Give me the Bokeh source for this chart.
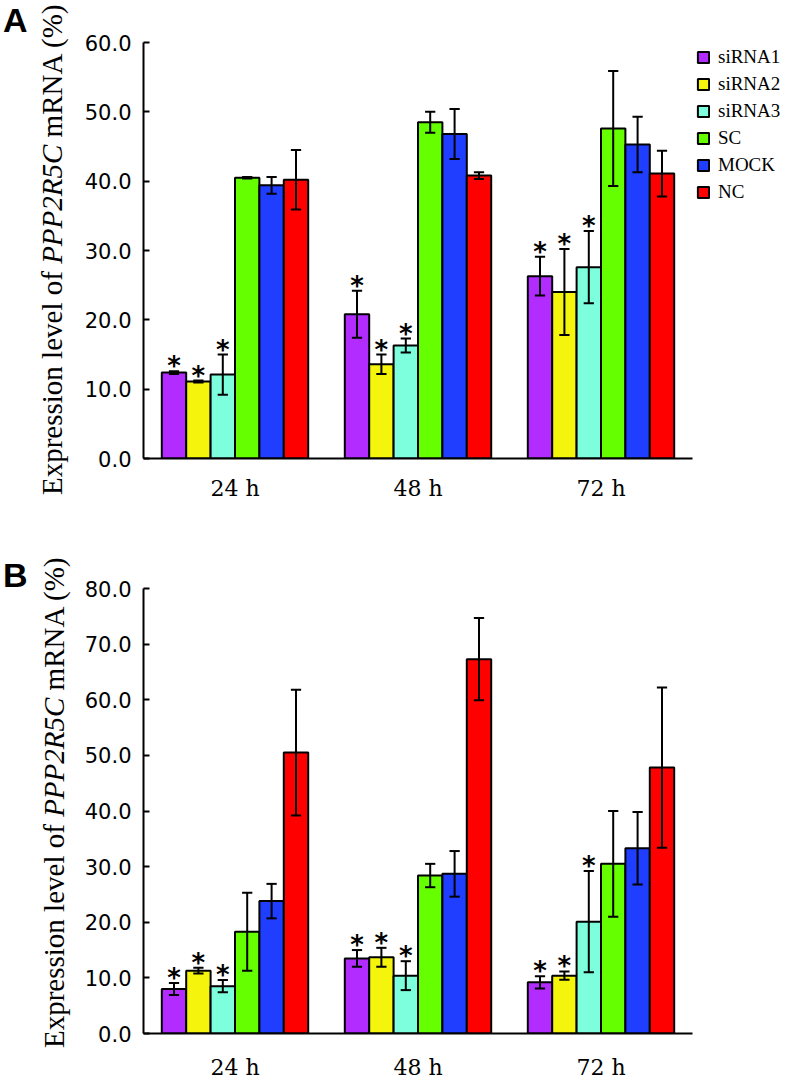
from bokeh.plotting import figure
from bokeh.models import (FactorRange, Range1d, FixedTicker, NumeralTickFormatter,
                          ColumnDataSource, Legend, LegendItem, Div)
from bokeh.transform import dodge
from bokeh.layouts import column, row
from bokeh.embed import file_html
from bokeh.resources import INLINE
from bokeh.core.properties import value

# ---------------- data ----------------
groups = ["24 h", "48 h", "72 h"]
series = ["siRNA1", "siRNA2", "siRNA3", "SC", "MOCK", "NC"]
colors = ["#B22CFF", "#F4F40C", "#7DFFDE", "#66FF00", "#1F3EFF", "#FF0000"]

# Panel A (means and SD per series across groups)
a_siRNA1 = [12.4, 20.8, 26.3]
a_siRNA2 = [11.1, 13.6, 24.0]
a_siRNA3 = [12.1, 16.3, 27.6]
a_SC     = [40.5, 48.5, 47.6]
a_MOCK   = [39.4, 46.8, 45.3]
a_NC     = [40.2, 40.8, 41.1]
a_err_siRNA1 = [0.2, 3.4, 2.8]
a_err_siRNA2 = [0.15, 1.4, 6.2]
a_err_siRNA3 = [2.9, 1.0, 5.2]
a_err_SC     = [0.1, 1.5, 8.3]
a_err_MOCK   = [1.2, 3.6, 4.0]
a_err_NC     = [4.3, 0.5, 3.3]
a_sig = {"siRNA1": [1, 1, 1], "siRNA2": [1, 1, 1], "siRNA3": [1, 1, 1],
         "SC": [0, 0, 0], "MOCK": [0, 0, 0], "NC": [0, 0, 0]}

# Panel B
b_siRNA1 = [8.0, 13.5, 9.2]
b_siRNA2 = [11.3, 13.7, 10.4]
b_siRNA3 = [8.5, 10.4, 20.1]
b_SC     = [18.3, 28.4, 30.5]
b_MOCK   = [23.8, 28.7, 33.3]
b_NC     = [50.5, 67.3, 47.8]
b_err_siRNA1 = [1.1, 1.5, 1.1]
b_err_siRNA2 = [0.5, 1.7, 0.75]
b_err_siRNA3 = [1.1, 2.6, 9.1]
b_err_SC     = [7.0, 2.1, 9.5]
b_err_MOCK   = [3.1, 4.1, 6.5]
b_err_NC     = [11.3, 7.4, 14.4]
b_sig = {"siRNA1": [1, 1, 1], "siRNA2": [1, 1, 1], "siRNA3": [1, 1, 1],
         "SC": [0, 0, 0], "MOCK": [0, 0, 0], "NC": [0, 0, 0]}

a_yticks = [0, 10, 20, 30, 40, 50, 60]
b_yticks = [0, 10, 20, 30, 40, 50, 60, 70, 80]

y_title_html = "Expression level of <i>PPP2R5C</i> mRNA (%)"

a_means = [a_siRNA1, a_siRNA2, a_siRNA3, a_SC, a_MOCK, a_NC]
a_errs = [a_err_siRNA1, a_err_siRNA2, a_err_siRNA3, a_err_SC, a_err_MOCK, a_err_NC]
b_means = [b_siRNA1, b_siRNA2, b_siRNA3, b_SC, b_MOCK, b_NC]
b_errs = [b_err_siRNA1, b_err_siRNA2, b_err_siRNA3, b_err_SC, b_err_MOCK, b_err_NC]

BAR_W = 0.8 / 6
CAP = 0.028
STRIP_W = 80


def make_strip(height, letter, letter_top, title_left, title_top):
    """HTML strip left of a panel: panel letter and rotated y-axis title."""
    html = (
        f'<div style="position:relative;width:{STRIP_W}px;height:{height}px;">'
        f'<div style="position:absolute;left:3px;top:{letter_top}px;'
        f'font-family:\'Liberation Sans\';font-weight:bold;font-size:34px;'
        f'line-height:34px;color:black;">{letter}</div>'
        f'<div style="position:absolute;left:{title_left}px;top:{title_top}px;'
        f'transform-origin:0 0;transform:rotate(-90deg);white-space:nowrap;'
        f'font-family:\'Liberation Serif\';font-size:29px;line-height:29px;'
        f'color:black;">{y_title_html}</div>'
        f'</div>'
    )
    return Div(text=html, width=STRIP_W, height=height, margin=(0, 0, 0, 0))


def make_panel(means, errs, sig, yticks, frame_h, top_b, bot_b, xstand, legend=False):
    p = figure(x_range=FactorRange(*groups), y_range=Range1d(yticks[0], yticks[-1]),
               frame_width=549, frame_height=frame_h,
               min_border_left=143 - STRIP_W, min_border_right=0 if legend else 92,
               min_border_top=top_b, min_border_bottom=bot_b,
               output_backend="svg", toolbar_location=None, tools="")
    p.outline_line_color = None
    p.xgrid.grid_line_color = None
    p.ygrid.grid_line_color = None

    items = []
    for i, (name, col) in enumerate(zip(series, colors)):
        off = (i - 2.5) * BAR_W
        m = means[i]
        e = errs[i]
        src = ColumnDataSource(dict(
            g=groups, top=m,
            upper=[v + d for v, d in zip(m, e)],
            lower=[v - d for v, d in zip(m, e)],
            star=["*" if k else "" for k in sig[name]],
        ))
        r = p.vbar(x=dodge("g", off, range=p.x_range), top="top", bottom=0, width=BAR_W,
                   fill_color=col, line_color="black", line_width=2, source=src)
        items.append(LegendItem(label=name, renderers=[r]))
        p.segment(x0=dodge("g", off, range=p.x_range), y0="lower",
                  x1=dodge("g", off, range=p.x_range), y1="upper",
                  line_color="black", line_width=2, source=src)
        for key in ("upper", "lower"):
            p.segment(x0=dodge("g", off - CAP, range=p.x_range), y0=key,
                      x1=dodge("g", off + CAP, range=p.x_range), y1=key,
                      line_color="black", line_width=2, source=src)
        p.text(x=dodge("g", off, range=p.x_range), y="upper", text="star", source=src,
               text_font=value("DejaVu Sans"), text_font_size="26px",
               text_font_style="bold",
               text_align="center", text_baseline="alphabetic", y_offset=-5,
               text_color="black")

    xa = p.xaxis[0]
    xa.axis_line_width = 2
    xa.major_tick_line_color = None
    xa.minor_tick_line_color = None
    xa.major_label_text_font = "DejaVu Serif"
    xa.major_label_text_font_size = "22px"
    xa.major_label_text_color = "black"
    xa.major_label_standoff = xstand

    ya = p.yaxis[0]
    ya.ticker = FixedTicker(ticks=yticks)
    ya.formatter = NumeralTickFormatter(format="0.0")
    ya.axis_line_width = 2
    ya.major_tick_line_width = 2
    ya.major_tick_in = 6
    ya.major_tick_out = 0
    ya.minor_tick_line_color = None
    ya.major_label_text_font = "DejaVu Sans"
    ya.major_label_text_font_size = "21px"
    ya.major_label_text_color = "black"
    ya.major_label_standoff = 12

    if legend:
        lg = Legend(items=items, location="top_left", orientation="vertical",
                    glyph_width=14, glyph_height=14, label_standoff=8, spacing=5,
                    padding=0, margin=4, border_line_color=None,
                    background_fill_alpha=0, label_text_font="Liberation Serif",
                    label_text_font_size="19px", label_height=20,
                    label_text_color="black")
        p.add_layout(lg, "right")
    return p


HA = 42 + 416 + 47
HB = 83 + 445 + 51
pa = make_panel(a_means, a_errs, a_sig, a_yticks, frame_h=416, top_b=42, bot_b=47,
                xstand=11, legend=True)
pb = make_panel(b_means, b_errs, b_sig, b_yticks, frame_h=445, top_b=83, bot_b=51,
                xstand=15)
sa = make_strip(HA, "A", 3, 38, 495)
sb = make_strip(HB, "B", 53, 40, 543)

layout = column(row(sa, pa, spacing=0), row(sb, pb, spacing=0), spacing=0)
open("out.html", "w").write(file_html(layout, INLINE))
